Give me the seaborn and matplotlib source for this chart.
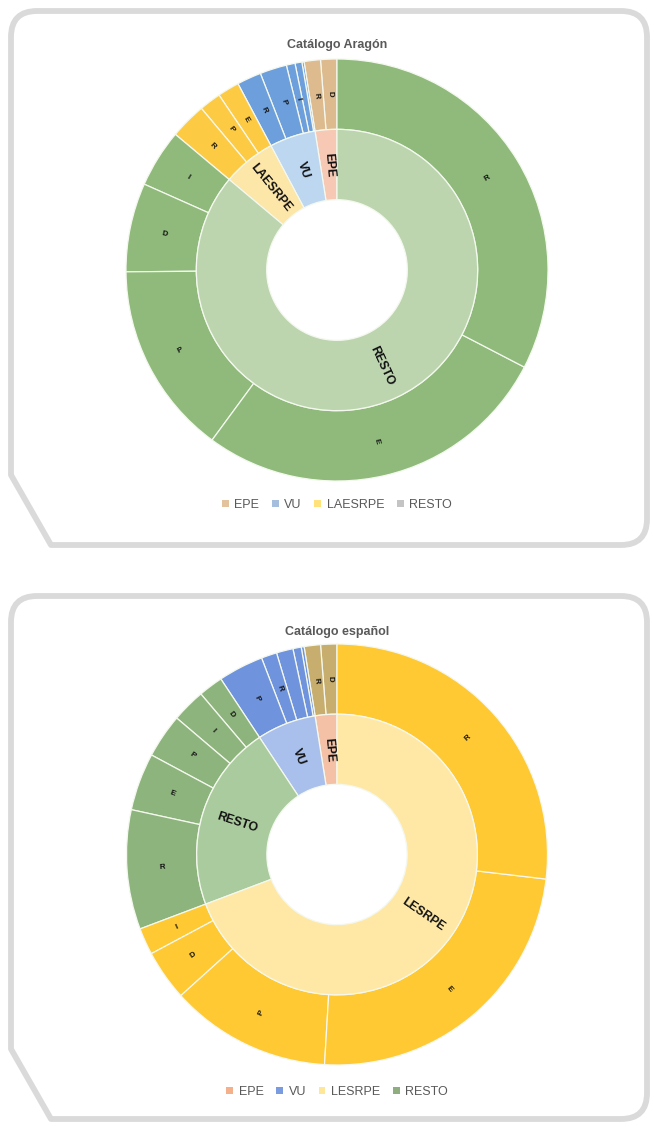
import matplotlib
matplotlib.use('Agg')
import numpy as np
import matplotlib.pyplot as plt
from matplotlib.path import Path
from matplotlib.patches import PathPatch, Patch
import seaborn as sns

# ---- data (values ~ degrees of the ring) ----
# Catálogo Aragón
ar_groups = ['EPE', 'VU', 'LAESRPE', 'RESTO']
ar_epe_lbl = ['D', 'R']
ar_epe_val = [4.5, 4.5]
ar_vu_lbl = ['', '', 'I', 'P', 'R']
ar_vu_val = [0.6, 1.9, 2.4, 7.4, 6.7]
ar_lae_lbl = ['E', 'P', 'R']
ar_lae_val = [6.0, 6.0, 10.0]
ar_resto_lbl = ['I', 'D', 'P', 'E', 'R']
ar_resto_val = [16.0, 24.5, 53.2, 98.9, 117.4]

# Catálogo español
es_groups = ['EPE', 'VU', 'RESTO', 'LESRPE']
es_legend = ['EPE', 'VU', 'LESRPE', 'RESTO']
es_epe_lbl = ['D', 'R']
es_epe_val = [4.5, 4.5]
es_vu_lbl = ['', '', '', 'R', 'P']
es_vu_val = [0.8, 2.3, 4.6, 4.3, 12.5]
es_resto_lbl = ['D', 'I', 'P', 'E', 'R']
es_resto_val = [6.8, 9.3, 12.2, 15.9, 33.0]
es_les_lbl = ['I', 'D', 'P', 'E', 'R']
es_les_val = [7.4, 14.0, 44.5, 86.7, 96.7]

# colours
ar_inner_cols = ['#F7C9B4', '#BDD7F0', '#FCE6A8', '#BCD5AF']
ar_outer_cols = ['#DDBB8E', '#6C9FDC', '#FDCB43', '#8FBA7B']
ar_legend_cols = ['#E3C39D', '#A6BEDD', '#FFE37A', '#C4C4C4']
es_inner_cols = ['#F5C1A6', '#A9C0EC', '#AACB9E', '#FFE8A6']
es_outer_cols = ['#C8AE6E', '#6F93DC', '#8EB47E', '#FFC933']
es_legend_cols = ['#F4B08A', '#7B9BE0', '#FFE799', '#8FAE7F']

EDGE = '#F4F8EE'
W, H = 654, 1127

sns.set_theme(style='white')
plt.rcParams['font.family'] = ['Liberation Sans Narrow', 'Liberation Sans', 'DejaVu Sans']

fig = plt.figure(figsize=(W / 100, H / 100), dpi=100)
fig.patch.set_facecolor('white')

# background frames
bg = fig.add_axes([0, 0, 1, 1], zorder=0)
bg.set_xlim(0, W)
bg.set_ylim(H, 0)
bg.axis('off')


def frame(ax, x0, y0, x1, y1, r=26, cx=40, cy=70):
    verts = [(x0 + r, y0), (x1 - r, y0), (x1, y0), (x1, y0 + r),
             (x1, y1 - r), (x1, y1), (x1 - r, y1),
             (x0 + cx, y1), (x0, y1 - cy),
             (x0, y0 + r), (x0, y0), (x0 + r, y0), (x0 + r, y0)]
    codes = [Path.MOVETO, Path.LINETO, Path.CURVE3, Path.CURVE3,
             Path.LINETO, Path.CURVE3, Path.CURVE3,
             Path.LINETO, Path.LINETO,
             Path.LINETO, Path.CURVE3, Path.CURVE3, Path.CLOSEPOLY]
    ax.add_patch(PathPatch(Path(verts, codes), facecolor='white',
                           edgecolor='#DADADA', lw=4.2, joinstyle='round'))


frame(bg, 11, 11, 647, 545)
frame(bg, 11, 596, 647, 1119)


def sunburst(ax, children, inner_cols, outer_cols):
    inner_vals = [sum(v) for _, v in children]
    outer_vals = [x for _, v in children for x in v]
    outer_lbls = [l for lbls, _ in children for l in lbls]
    outer_c = [outer_cols[i] for i, (_, v) in enumerate(children) for _ in v]
    wo, _ = ax.pie(outer_vals, radius=1, startangle=90, counterclock=True,
                   colors=outer_c,
                   wedgeprops=dict(width=1 / 3, edgecolor=EDGE, linewidth=0.9))
    wi, _ = ax.pie(inner_vals, radius=2 / 3, startangle=90, counterclock=True,
                   colors=inner_cols,
                   wedgeprops=dict(width=1 / 3, edgecolor=EDGE, linewidth=0.9))
    return wi, wo, outer_lbls


def put_labels(ax, wedges, labels, r, size):
    for w, lbl in zip(wedges, labels):
        if not lbl:
            continue
        mid = (w.theta1 + w.theta2) / 2
        rot = ((mid + 90) % 180) - 90
        a = np.deg2rad(mid)
        ax.text(r * np.cos(a), r * np.sin(a), lbl, rotation=rot,
                rotation_mode='anchor', ha='center', va='center',
                fontsize=size, fontweight='bold', color='#111111')


def panel(rect, title, title_y, children, groups, inner_cols, outer_cols,
          legend_names, legend_cols, legend_y):
    ax = fig.add_axes(rect, zorder=2)
    wi, wo, outer_lbls = sunburst(ax, children, inner_cols, outer_cols)
    put_labels(ax, wo, outer_lbls, 5 / 6, 5.8)
    put_labels(ax, wi, groups, 0.5, 8.8)
    ax.set_xlim(-1, 1)
    ax.set_ylim(-1, 1)
    ax.set_aspect('equal')
    ax.axis('off')
    fig.text(337 / W, 1 - title_y / H, title, ha='center', va='center',
             fontsize=9, fontweight='bold', color='#595959',
             family=['Liberation Sans', 'DejaVu Sans'])
    handles = [Patch(facecolor=c, edgecolor='none') for c in legend_cols]
    fig.legend(handles, legend_names, loc='center', ncol=4,
               bbox_to_anchor=(337 / W, 1 - legend_y / H),
               frameon=False, fontsize=9, labelcolor='#595959',
               handlelength=0.55, handleheight=0.55, handletextpad=0.45,
               columnspacing=1.0)


ar_children = [(ar_epe_lbl, ar_epe_val), (ar_vu_lbl, ar_vu_val),
               (ar_lae_lbl, ar_lae_val), (ar_resto_lbl, ar_resto_val)]
es_children = [(es_epe_lbl, es_epe_val), (es_vu_lbl, es_vu_val),
               (es_resto_lbl, es_resto_val), (es_les_lbl, es_les_val)]

panel([126 / W, 1 - 481 / H, 422 / W, 422 / H], 'Catálogo Aragón', 45,
      ar_children, ar_groups, ar_inner_cols, ar_outer_cols,
      ar_groups, ar_legend_cols, 505)
panel([126.5 / W, 1 - 1065 / H, 421 / W, 421 / H], 'Catálogo español', 632,
      es_children, es_groups, es_inner_cols, es_outer_cols,
      es_legend, es_legend_cols, 1092)

fig.savefig('out.png', dpi=100, facecolor='white')
